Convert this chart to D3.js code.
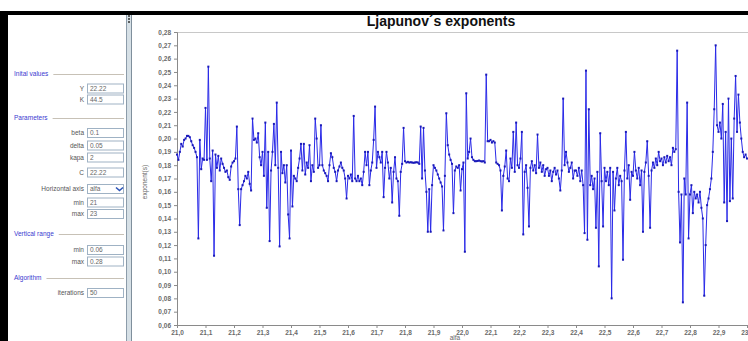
<!DOCTYPE html>
<html>
<head>
<meta charset="utf-8">
<script src="https://cdn.jsdelivr.net/npm/d3@7"></script>
<style>
  body { margin: 0; background: #fff; }
  svg { display: block; font-family: "Liberation Sans", Arial, sans-serif; }
</style>
</head>
<body>
<div id="app"></div>
<script>
// Horizontal parameter sweep (alfa) and the computed exponent at each step
const alfaMin = 21.0;
const alfaMax = 23.0;
const exponents = [
  0.188,0.184,0.190,0.196,0.194,0.199,0.200,0.202,0.202,0.201,0.198,0.195,0.193,0.190,0.186,0.125,0.199,0.177,0.185,0.184,
  0.223,0.184,0.254,0.185,0.168,0.191,0.112,0.188,0.178,0.187,0.176,0.185,0.181,0.178,0.175,0.176,0.171,0.169,0.179,0.182,
  0.183,0.185,0.209,0.162,0.135,0.162,0.165,0.168,0.172,0.170,0.175,0.166,0.161,0.215,0.199,0.200,0.197,0.204,0.186,0.180,
  0.190,0.172,0.212,0.148,0.190,0.123,0.176,0.190,0.211,0.180,0.227,0.178,0.119,0.190,0.174,0.180,0.167,0.180,0.143,0.125,
  0.191,0.149,0.172,0.170,0.168,0.178,0.185,0.196,0.176,0.196,0.173,0.182,0.178,0.195,0.168,0.180,0.175,0.215,0.200,0.178,
  0.180,0.210,0.180,0.176,0.174,0.172,0.168,0.180,0.189,0.186,0.178,0.175,0.168,0.176,0.179,0.182,0.178,0.176,0.170,0.155,
  0.172,0.170,0.173,0.168,0.217,0.170,0.168,0.172,0.168,0.170,0.165,0.175,0.190,0.180,0.190,0.165,0.176,0.182,0.199,0.224,
  0.178,0.190,0.186,0.182,0.190,0.156,0.178,0.190,0.182,0.170,0.178,0.152,0.175,0.186,0.170,0.168,0.142,0.175,0.181,0.208,
  0.183,0.182,0.1825,0.182,0.1822,0.182,0.1818,0.182,0.1822,0.182,0.181,0.209,0.170,0.208,0.176,0.160,0.130,0.162,0.130,0.165,
  0.180,0.178,0.176,0.173,0.170,0.167,0.164,0.131,0.172,0.219,0.195,0.188,0.184,0.181,0.144,0.176,0.179,0.178,0.180,0.161,
  0.177,0.182,0.115,0.234,0.185,0.190,0.200,0.186,0.184,0.183,0.183,0.1832,0.1835,0.183,0.1828,0.183,0.182,0.248,0.198,0.198,
  0.199,0.197,0.198,0.197,0.182,0.181,0.180,0.176,0.146,0.172,0.179,0.191,0.170,0.168,0.185,0.178,0.205,0.175,0.212,0.180,
  0.178,0.185,0.205,0.128,0.175,0.180,0.163,0.134,0.178,0.183,0.176,0.180,0.174,0.203,0.178,0.182,0.175,0.180,0.172,0.177,
  0.178,0.172,0.176,0.168,0.175,0.178,0.173,0.176,0.170,0.161,0.176,0.230,0.180,0.190,0.182,0.175,0.178,0.182,0.170,0.176,
  0.176,0.172,0.178,0.168,0.176,0.165,0.129,0.251,0.124,0.222,0.165,0.172,0.162,0.170,0.133,0.175,0.104,0.204,0.168,0.134,
  0.178,0.168,0.175,0.165,0.178,0.080,0.175,0.146,0.170,0.178,0.165,0.172,0.168,0.109,0.176,0.205,0.170,0.180,0.154,0.175,
  0.172,0.190,0.176,0.170,0.178,0.165,0.176,0.130,0.175,0.182,0.198,0.172,0.133,0.176,0.182,0.178,0.185,0.180,0.190,0.183,
  0.185,0.180,0.186,0.182,0.187,0.183,0.186,0.180,0.193,0.190,0.192,0.266,0.160,0.122,0.158,0.077,0.170,0.158,0.227,0.125,
  0.158,0.165,0.144,0.160,0.155,0.158,0.152,0.160,0.148,0.140,0.082,0.120,0.150,0.155,0.162,0.170,0.190,0.222,0.270,0.210,
  0.205,0.212,0.200,0.226,0.152,0.205,0.138,0.230,0.153,0.200,0.155,0.215,0.247,0.205,0.233,0.212,0.200,0.190,0.186,0.188,
  0.185
];

// Tick labels
const yTicks = [0.06,0.07,0.08,0.09,0.10,0.11,0.12,0.13,0.14,0.15,0.16,0.17,0.18,0.19,0.20,0.21,0.22,0.23,0.24,0.25,0.26,0.27,0.28];
const xTicks = [21.0,21.1,21.2,21.3,21.4,21.5,21.6,21.7,21.8,21.9,22.0,22.1,22.2,22.3,22.4,22.5,22.6,22.7,22.8,22.9,23.0];

// Side panel content
const panelHeaders = ["Inital values", "Parameters", "Vertical range", "Algorithm"];
const panelLabels = ["Y", "K", "beta", "delta", "kapa", "C", "Horizontal axis", "min", "max", "min", "max", "iterations"];
const panelValues = ["22.22", "44.5", "0.1", "0.05", "2", "22.22", "alfa", "21", "23", "0.06", "0.28", "50"];

const W = 748, H = 341;
const svg = d3.select("#app").append("svg")
    .attr("width", W)
    .attr("height", H);

svg.append("rect").attr("width", W).attr("height", H).attr("fill", "#fff");

// Window frame
svg.append("rect").attr("x", 0).attr("y", 12).attr("width", 8).attr("height", H - 12).attr("fill", "#000");
svg.append("rect").attr("x", 0).attr("y", 11).attr("width", W).attr("height", 4).attr("fill", "#000");

// Splitter between panel and chart
svg.append("rect").attr("x", 126).attr("y", 15).attr("width", 6).attr("height", H - 15)
    .attr("fill", "#d6e0e6");
svg.append("line").attr("x1", 126.5).attr("x2", 126.5).attr("y1", 15).attr("y2", H).attr("stroke", "#8c9caa");
svg.append("line").attr("x1", 131.5).attr("x2", 131.5).attr("y1", 15).attr("y2", H).attr("stroke", "#7f8f9c");
svg.append("line").attr("x1", 129).attr("x2", 129).attr("y1", 15).attr("y2", 23)
    .attr("stroke", "#333").attr("stroke-width", 1.5).attr("stroke-dasharray", "2,1");

// ---- Side panel ----
const panel = svg.append("g").attr("font-size", 6.5);
const headerY = [74, 118, 234, 278];
panelHeaders.forEach((h, i) => {
    const t = panel.append("text")
        .attr("x", 14).attr("y", headerY[i] + 2)
        .attr("fill", "#3a3ad0")
        .text(h);
    const w = t.node().getComputedTextLength();
    panel.append("line")
        .attr("x1", 14 + w + 5).attr("x2", 124)
        .attr("y1", headerY[i] + 0.5).attr("y2", headerY[i] + 0.5)
        .attr("stroke", "#c7c1b6");
});

const rowY = [88.5, 99.5, 133, 145.5, 157.5, 172.5, 189, 202.5, 214, 250, 261.5, 293];
panelLabels.forEach((lab, i) => {
    const cy = rowY[i];
    panel.append("text")
        .attr("x", 84).attr("y", cy + 2.2)
        .attr("text-anchor", "end")
        .attr("fill", "#555")
        .text(lab);
    panel.append("rect")
        .attr("x", 87.5).attr("y", cy - 4.5)
        .attr("width", 36).attr("height", 9)
        .attr("fill", "#fff")
        .attr("stroke", "#9fb2c4");
    panel.append("text")
        .attr("x", 90).attr("y", cy + 2.2)
        .attr("fill", "#666")
        .text(panelValues[i]);
    if (lab === "Horizontal axis") {
        panel.append("path")
            .attr("d", `M${116},${cy - 1.5} L${119.5},${cy + 1.5} L${123},${cy - 1.5}`)
            .attr("fill", "none")
            .attr("stroke", "#2d55b8")
            .attr("stroke-width", 1.6);
    }
});

// ---- Chart ----
const x = d3.scaleLinear().domain([alfaMin, alfaMax]).range([177, 747]);
const y = d3.scaleLinear().domain([0.06, 0.28]).range([325, 32]);
const step = (alfaMax - alfaMin) / (exponents.length - 1);
const points = exponents.map((v, i) => ({ alfa: alfaMin + i * step, value: v }));

svg.append("text")
    .attr("x", 441).attr("y", 26)
    .attr("text-anchor", "middle")
    .attr("font-size", 14)
    .attr("font-weight", "bold")
    .attr("fill", "#111")
    .text("Ljapunov\u00b4s exponents");

// plot top border
svg.append("line")
    .attr("x1", 177).attr("x2", W)
    .attr("y1", 32.5).attr("y2", 32.5)
    .attr("stroke", "#c8c8c8");

const fmtY = d => d3.format(".2f")(d).replace(".", ",");
const fmtX = d => d3.format(".1f")(d).replace(".", ",");

const yAxis = svg.append("g")
    .attr("transform", "translate(177,0)")
    .call(d3.axisLeft(y).tickValues(yTicks).tickFormat(fmtY).tickSize(3).tickPadding(3));
const xAxis = svg.append("g")
    .attr("transform", "translate(0,325)")
    .call(d3.axisBottom(x).tickValues(xTicks).tickFormat(fmtX).tickSize(3).tickPadding(2));

[yAxis, xAxis].forEach(a => {
    a.select(".domain").attr("stroke", "#8a8a8a");
    a.selectAll(".tick line").attr("stroke", "#8a8a8a");
    a.selectAll(".tick text")
        .attr("font-size", 6.5)
        .attr("font-weight", "bold")
        .attr("fill", "#6a6a6a")
        .attr("font-family", "\"Liberation Sans\", Arial, sans-serif");
});

svg.append("text")
    .attr("transform", "translate(147,182) rotate(-90)")
    .attr("text-anchor", "middle")
    .attr("font-size", 6.5)
    .attr("fill", "#666")
    .text("exponent(s)");

svg.append("text")
    .attr("x", 455).attr("y", 340)
    .attr("text-anchor", "middle")
    .attr("font-size", 6.5)
    .attr("fill", "#666")
    .text("alfa");

// Series line and point markers
const line = d3.line()
    .x(d => x(d.alfa))
    .y(d => y(d.value));

svg.append("path")
    .datum(points)
    .attr("fill", "none")
    .attr("stroke", "#2a2ae8")
    .attr("stroke-width", 1)
    .attr("d", line);

svg.append("g")
    .selectAll("rect")
    .data(points)
    .enter().append("rect")
    .attr("x", d => x(d.alfa) - 1)
    .attr("y", d => y(d.value) - 1)
    .attr("width", 2)
    .attr("height", 2)
    .attr("fill", "#1a1ab8");
</script>
</body>
</html>
